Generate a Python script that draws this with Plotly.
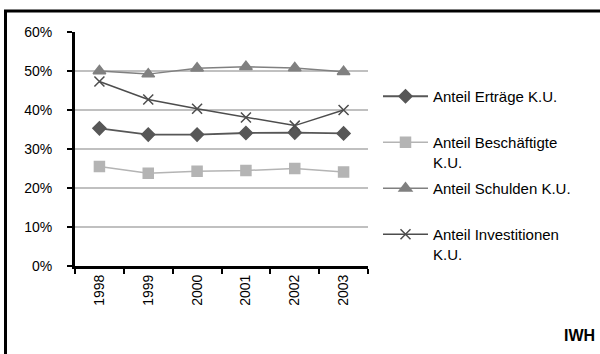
import plotly.graph_objects as go

# Kennzahlen der kleinen Unternehmen (K.U.), Anteile in Prozent
jahre = ["1998", "1999", "2000", "2001", "2002", "2003"]
ertraege = [35.3, 33.7, 33.7, 34.1, 34.2, 34.0]
beschaeftigte = [25.5, 23.8, 24.3, 24.5, 25.0, 24.1]
schulden = [50.0, 49.2, 50.7, 51.1, 50.8, 49.8]
investitionen = [47.3, 42.7, 40.3, 38.1, 36.0, 40.0]

FONT = "Arial, Liberation Sans, sans-serif"

W, H = 600, 354
L, R, T, B = 75, 232, 32, 88
pw, ph = W - L - R, H - T - B


def px_x(x):
    return (x - L) / pw


def px_y(y):
    return (H - B - y) / ph


series = [
    ("Anteil Erträge K.U.<br> ", ertraege, "#575757", "diamond", 10, 1.8),
    ("Anteil Beschäftigte<br>K.U.", beschaeftigte, "#b4b4b4", "square", 10, 1.5),
    ("Anteil Schulden K.U.<br> ", schulden, "#808080", "triangle-up", 11, 1.5),
    ("Anteil Investitionen<br>K.U.", investitionen, "#4d4d4d", "x-thin-open", 10, 1.5),
]

fig = go.Figure()
for i, (name, vals, col, sym, size, lw) in enumerate(series):
    fig.add_trace(go.Scatter(
        x=jahre,
        y=[v / 100 for v in vals],
        name=name,
        legendgroup=f"g{i}",
        mode="lines+markers",
        line=dict(color=col, width=lw),
        marker=dict(symbol=sym, size=size, color=col,
                    line=dict(color=col, width=1.5)),
    ))

fig.update_layout(
    width=W, height=H,
    margin=dict(l=L, r=R, t=T, b=B),
    paper_bgcolor="white",
    plot_bgcolor="white",
    font=dict(family=FONT, size=14, color="black"),
    showlegend=True,
    legend=dict(
        x=px_x(378), y=px_y(80), xanchor="left", yanchor="top",
        font=dict(family=FONT, size=15, color="black"),
        itemwidth=45, valign="top", tracegroupgap=4,
        bgcolor="rgba(0,0,0,0)",
    ),
    xaxis=dict(
        type="category",
        range=[-0.5, 5.5],
        showline=True, linecolor="black", linewidth=3,
        ticks="outside", tickson="boundaries", ticklen=5,
        tickcolor="black", tickwidth=1.5,
        tickangle=-90,
        tickfont=dict(family=FONT, size=14),
        showgrid=False, zeroline=False,
    ),
    yaxis=dict(
        range=[0, 0.6],
        dtick=0.1,
        tickformat=".0%",
        showline=True, linecolor="black", linewidth=3,
        ticks="outside", ticklen=5, tickcolor="black", tickwidth=1.5,
        ticklabelstandoff=12,
        tickfont=dict(family=FONT, size=14),
        showgrid=True, gridcolor="#c0c0c0", gridwidth=1.5,
        zeroline=False,
    ),
    shapes=[dict(
        type="rect", xref="paper", yref="paper",
        x0=px_x(5.5), x1=px_x(610), y0=px_y(360), y1=px_y(11),
        line=dict(color="black", width=3), fillcolor="rgba(0,0,0,0)",
        layer="above",
    )],
    annotations=[dict(
        text="<b>IWH</b>", xref="paper", yref="paper",
        x=px_x(597), y=px_y(335), xanchor="right", yanchor="middle",
        showarrow=False, font=dict(family=FONT, size=16, color="black"),
    )],
)

fig.write_html("out.html")
